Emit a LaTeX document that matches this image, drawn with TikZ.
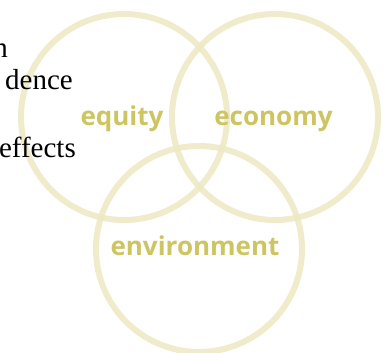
\documentclass[tikz,border=0pt]{standalone}
\usepackage{fontspec}
\setmainfont{Liberation Serif}
\newfontfamily\labelfont{Open Sans}
\definecolor{ringcol}{HTML}{ECE8C2}
\definecolor{labcol}{HTML}{CDC562}
\begin{document}
\begin{tikzpicture}[x=1pt,y=1pt,
  ring/.style={draw=ringcol,line width=6pt,draw opacity=0.85},
  lab/.style={font=\labelfont\bfseries\fontsize{26}{30}\selectfont,text=labcol,inner sep=0pt,anchor=base},
  side/.style={font=\fontsize{29}{34}\selectfont,text=black,inner sep=0pt,anchor=base east}]
\useasboundingbox (0,0) rectangle (389,353);
\begin{scope}
\clip (0,0) rectangle (389,353);
\node[ring,circle,minimum size=206pt,inner sep=0pt] (c1) at (124,236) {};
\node[ring,circle,minimum size=206pt,inner sep=0pt] (c2) at (275,236) {};
\node[ring,circle,minimum size=206pt,inner sep=0pt] (c3) at (199,104) {};
\node[side] (t1) at (8,295) {n};
\node[side] (t2) at (73,263) {dence};
\node[side] (t3) at (76,195) {effects};
\end{scope}
\node[lab] (l1) at (122,227) {equity};
\node[lab] (l2) at (273.5,227) {economy};
\node[lab] (l3) at (195,97) {environment};
\end{tikzpicture}
\end{document}
